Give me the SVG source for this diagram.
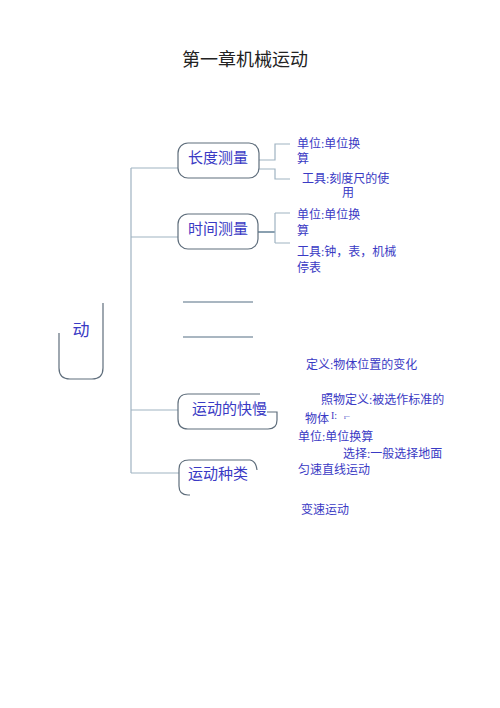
<svg xmlns="http://www.w3.org/2000/svg" width="500" height="708" viewBox="0 0 500 708">
<style>
.t{font-family:"Liberation Serif","Noto Sans CJK SC",serif;fill:#3a3ac4;font-size:12px}
.n{font-family:"Noto Sans CJK SC",sans-serif;fill:#3a3ac4;font-size:15px}
.box{fill:none;stroke:#5f6e7c;stroke-width:1.2}
.c{fill:none;stroke:#9fb3c2;stroke-width:1.2}
</style>
<rect width="500" height="708" fill="#fff"/>
<text x="245" y="66" text-anchor="middle" style="font-family:'Noto Sans CJK SC',sans-serif;font-size:18px;fill:#222">第一章机械运动</text>
<g id="connectors">
<path class="c" d="M131 168V473"/>
<path class="c" d="M131 168H178M131 237H178M131 410H178M131 473H179"/>
<path class="c" d="M259 160H275V144H290M259 169H275V179H290"/>
<path class="c" d="M258 232H275" style="stroke-width:2;stroke:#8aa0b0"/>
<path class="c" d="M275 213V243M275 213H290M275 243H290"/>
<path class="c" d="M183 302H253M183 337H253" style="stroke:#8d9ead;stroke-width:1.4"/>
</g>
<g id="root">
<path class="box" d="M59 333V368Q59 379 70 379H92Q103 379 103 368V303"/>
<text class="n" x="81" y="336" text-anchor="middle" style="font-size:17px">动</text>
</g>
<g id="length">
<rect class="box" x="178" y="143" width="81" height="35" rx="10"/>
<text class="n" x="218" y="163" text-anchor="middle">长度测量</text>
<text class="t" x="297" y="148">单位:单位换</text>
<text class="t" x="297" y="163">算</text>
<text class="t" x="302" y="183">工具:刻度尺的使</text>
<text class="t" x="342" y="197">用</text>
</g>
<g id="time">
<rect class="box" x="178" y="214" width="80" height="35" rx="10"/>
<text class="n" x="218" y="234" text-anchor="middle">时间测量</text>
<text class="t" x="297" y="219">单位:单位换</text>
<text class="t" x="297" y="235">算</text>
<text class="t" x="297" y="256">工具:钟，表，机械</text>
<text class="t" x="297" y="272">停表</text>
</g>
<g id="speed">
<path class="box" d="M260 394H188Q178 394 178 404V419Q178 429 188 429H268Q277 429 277 420V412H267"/>
<text class="n" x="192" y="414">运动的快慢</text>
<text class="t" x="306" y="369">定义:物体位置的变化</text>
<text class="t" x="321" y="404">照物定义:被选作标准的</text>
<text class="t" x="305" y="423">物体</text>
<text class="t" x="331" y="419" style="font-size:10px">I:</text>
<text class="t" x="344" y="419" style="font-size:7px">r−</text>
<text class="t" x="298" y="441">单位:单位换算</text>
<text class="t" x="343" y="458">选择:一般选择地面</text>
</g>
<g id="kinds">
<path class="box" d="M190 495H188Q179 495 179 486V469Q179 460 189 460H250Q256 461 257 470"/>
<text class="n" x="188" y="479">运动种类</text>
<text class="t" x="298" y="474">匀速直线运动</text>
<text class="t" x="301" y="514">变速运动</text>
</g>
</svg>
